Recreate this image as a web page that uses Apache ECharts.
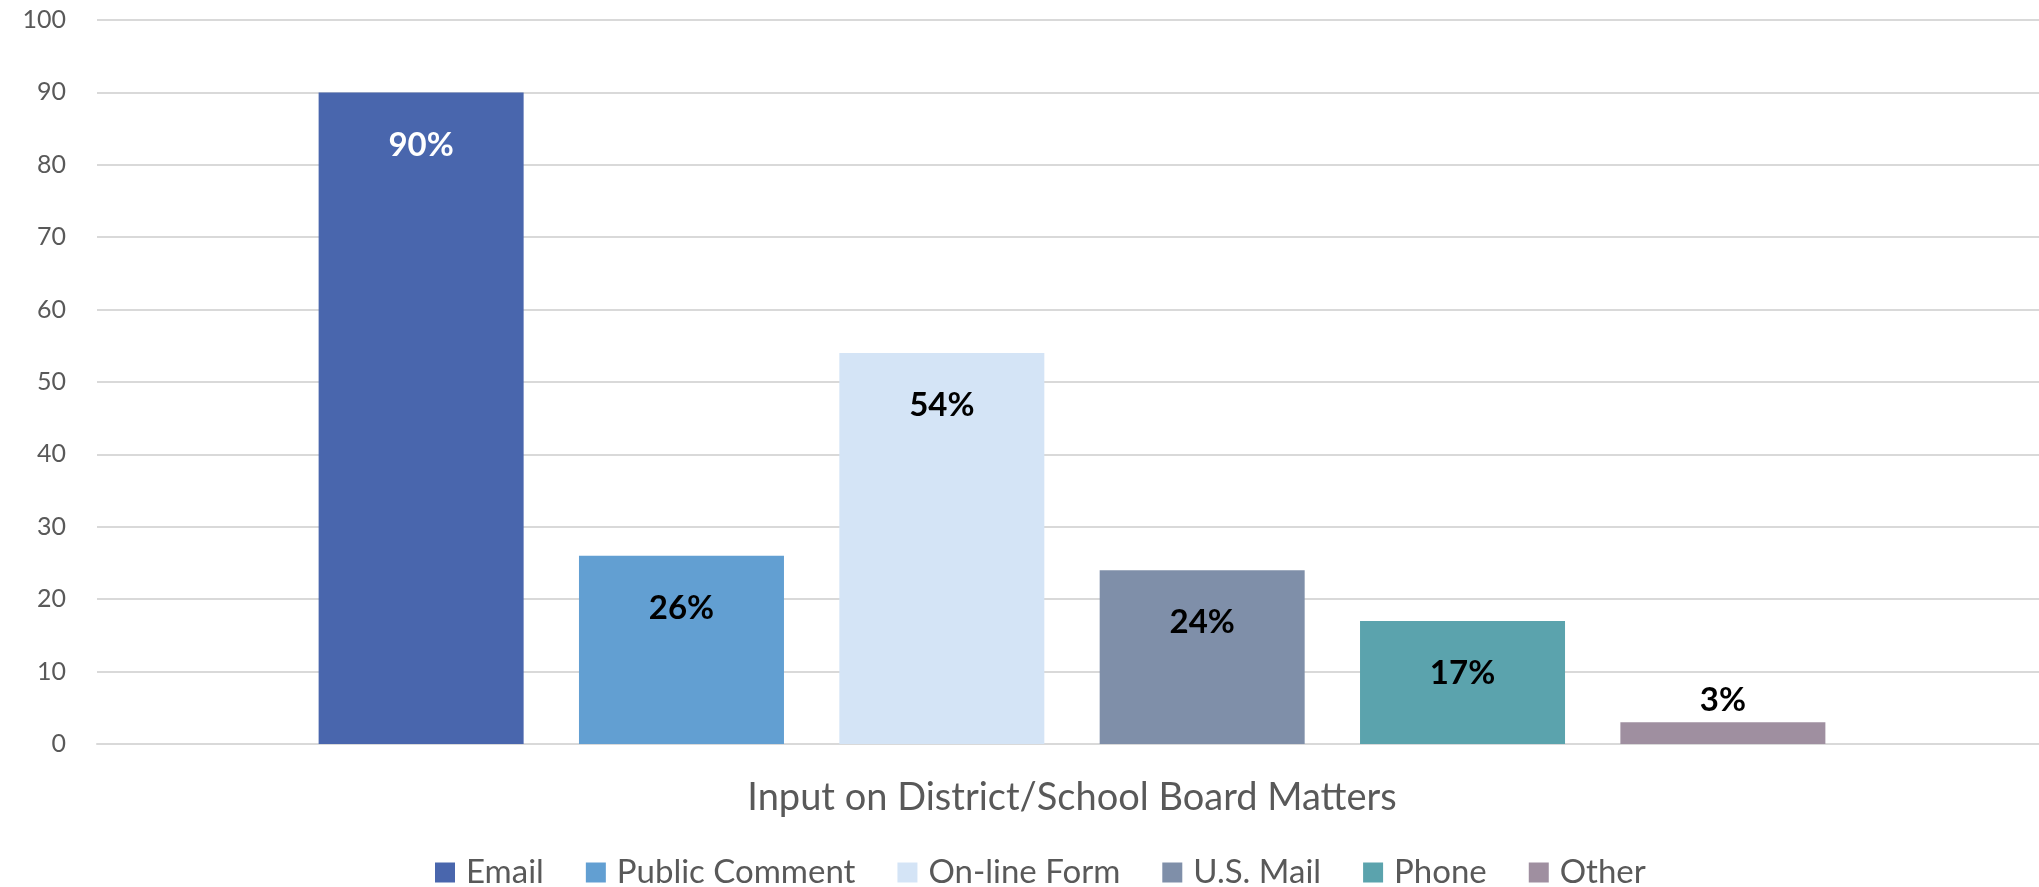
<!DOCTYPE html>
<html>
<head>
<meta charset="utf-8">
<script src="https://cdn.jsdelivr.net/npm/echarts@6/dist/echarts.min.js"></script>
<style>
  html, body { margin: 0; padding: 0; background: #fff; }
  #chart { width: 2039px; height: 887px; }
</style>
</head>
<body>
<div id="chart"></div>
<script>
  // 数据
  const categories = ['Input on District/School Board Matters']
  const seriesNames = ['Email', 'Public Comment', 'On-line Form', 'U.S. Mail', 'Phone', 'Other']
  const seriesValues = [90, 26, 54, 24, 17, 3]
  const yTicks = [0, 10, 20, 30, 40, 50, 60, 70, 80, 90, 100]

  const colors = ['#4966ad', '#629fd2', '#d4e4f6', '#7f8fa9', '#5ba3ad', '#9f8fa0']
  const labelColors = ['#ffffff', '#000000', '#000000', '#000000', '#000000', '#000000']

  const chart = echarts.init(document.getElementById('chart'))

  const series = seriesNames.map((name, i) => {
    const small = seriesValues[i] < 8
    return {
      name: name,
      type: 'bar',
      data: [seriesValues[i]],
      barWidth: 205,
      barGap: '27%',
      itemStyle: { color: colors[i] },
      label: {
        show: true,
        position: small ? 'top' : 'insideTop',
        distance: small ? 5 : 36,
        formatter: '{c}%',
        color: labelColors[i],
        fontFamily: 'Lato',
        fontWeight: 'bold',
        fontSize: 33
      }
    }
  })

  const option = {
    animation: false,
    color: colors,
    grid: {
      left: 97,
      right: -8,
      top: 20,
      bottom: 143,
      outerBoundsMode: 'none'
    },
    legend: {
      data: seriesNames,
      left: 430,
      top: 851,
      icon: 'rect',
      itemWidth: 20,
      itemHeight: 20,
      itemGap: 42,
      textStyle: {
        color: '#595959',
        fontFamily: 'Lato',
        fontSize: 33,
        padding: [0, 0, 0, 6]
      }
    },
    xAxis: {
      type: 'category',
      data: categories,
      axisTick: { show: false },
      axisLine: { lineStyle: { color: '#d9d9d9', width: 2 } },
      axisLabel: {
        margin: 35,
        color: '#595959',
        fontFamily: 'Lato',
        fontSize: 38
      }
    },
    yAxis: {
      type: 'value',
      min: yTicks[0],
      max: yTicks[yTicks.length - 1],
      interval: 10,
      axisLine: { show: false },
      axisTick: { show: false },
      axisLabel: {
        margin: 31,
        color: '#595959',
        fontFamily: 'Lato',
        fontSize: 25
      },
      splitLine: { lineStyle: { color: '#d9d9d9', width: 2 } }
    },
    series: series
  }
  chart.setOption(option)
</script>
</body>
</html>
